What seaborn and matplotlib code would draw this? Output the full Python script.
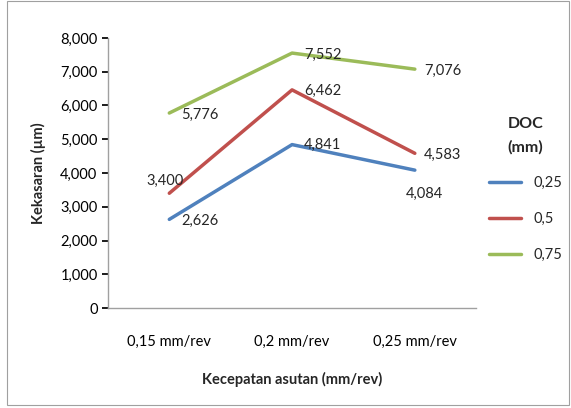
import matplotlib
matplotlib.use("Agg")
import matplotlib.pyplot as plt
import seaborn as sns
import pandas as pd
from matplotlib.ticker import FuncFormatter

categories = ["0,15 mm/rev", "0,2 mm/rev", "0,25 mm/rev"]
doc_labels = ["0,25", "0,5", "0,75"]
v_025 = [2.626, 4.841, 4.084]
v_05 = [3.400, 6.462, 4.583]
v_075 = [5.776, 7.552, 7.076]
colors = ["#4F81BD", "#C0504D", "#9BBB59"]

rows = []
for lab, vals in zip(doc_labels, [v_025, v_05, v_075]):
    for i, (c, v) in enumerate(zip(categories, vals)):
        rows.append({"x": i, "cat": c, "DOC": lab, "val": v * 1000})
df = pd.DataFrame(rows)

sns.set_theme(style="white")
plt.rcParams["font.family"] = ["Lato", "DejaVu Sans"]

fig = plt.figure(figsize=(5.71, 4.08), dpi=100)
ax = fig.add_axes([0.189, 0.245, 0.645, 0.662])
sns.lineplot(data=df, x="x", y="val", hue="DOC", palette=colors, linewidth=2.5,
             ax=ax, legend=True)

ax.set_xlim(-0.5, 2.5)
ax.set_ylim(0, 8000)
ax.set_yticks(range(0, 8001, 1000))
ax.yaxis.set_major_formatter(FuncFormatter(lambda v, p: "0" if v == 0 else f"{int(v):,}"))
ax.set_xticks([0, 1, 2])
ax.set_xticklabels(categories)
ax.tick_params(axis="x", length=0, pad=19, labelsize=10.5, colors="black")
ax.tick_params(axis="y", length=4, direction="out", left=True, labelsize=10.5, colors="black")
for s in ["top", "right"]:
    ax.spines[s].set_visible(False)
for s in ["left", "bottom"]:
    ax.spines[s].set_color("#A0A0A0")
    ax.spines[s].set_linewidth(1)
ax.set_xlabel("Kecepatan asutan (mm/rev)", fontsize=10.5, fontweight="bold", labelpad=17)
ax.set_ylabel("Kekasaran (µm)", fontsize=10.5, fontweight="bold", labelpad=10)

offsets = {
    "0,25": [(22, -1), (22, 0), (7, -17)],
    "0,5": [(-3, 9), (22, -1), (20, -1)],
    "0,75": [(22, -1), (22, -1), (20, -1)],
}
for lab, vals in zip(doc_labels, [v_025, v_05, v_075]):
    for i, v in enumerate(vals):
        dx, dy = offsets[lab][i]
        ax.annotate(f"{v:.3f}".replace(".", ","), (i, v * 1000), xytext=(dx, dy),
                    textcoords="offset points", ha="center", va="center", fontsize=10.5)

h, l = ax.get_legend_handles_labels()
leg = ax.legend(h, l, title="DOC\n(mm)", loc="center left", bbox_to_anchor=(1.0, 0.44),
                frameon=False, fontsize=10.5, handlelength=2.2, labelspacing=1.5,
                title_fontproperties={"weight": "bold", "size": 11.5})
leg._legend_box.align = "center"
leg.get_title().set_linespacing(1.8)

border = plt.Rectangle((0.012, 0.008), 0.985, 0.99, transform=fig.transFigure,
                       fill=False, edgecolor="#A0A0A0", linewidth=0.8)
fig.patches.append(border)

fig.savefig("out.png", dpi=100)
